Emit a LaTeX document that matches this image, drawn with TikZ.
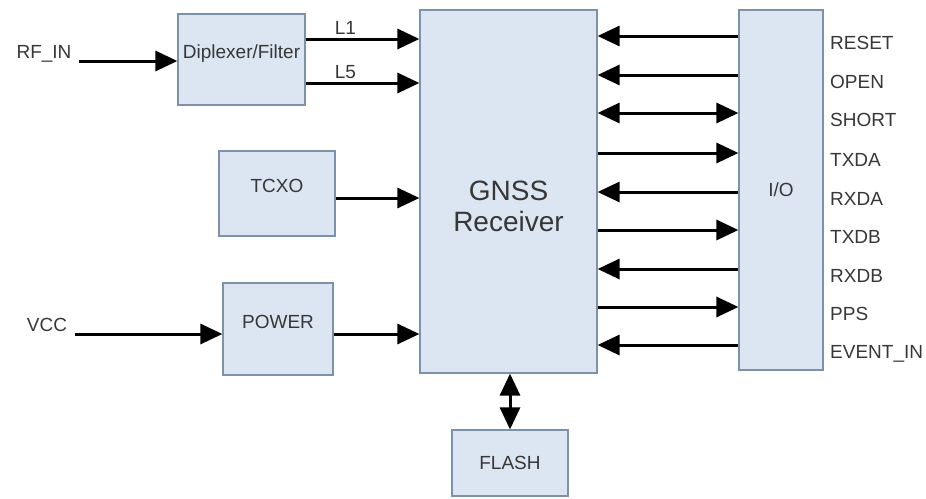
\documentclass[tikz,border=0pt]{standalone}
\usepackage{fontspec}
\setmainfont{Liberation Sans}
\usepackage{tikz}
\usetikzlibrary{arrows.meta,positioning}
\tikzset{>/.tip={Triangle[length=22pt,width=20pt]}}
\definecolor{boxfill}{RGB}{220,230,242}
\definecolor{boxline}{RGB}{125,145,170}
\definecolor{txtgray}{RGB}{55,55,55}
\newcommand\sigfont{\fontsize{19}{22}\selectfont}
\newcommand\bigfont{\fontsize{28}{31}\selectfont}

\begin{document}
\begin{tikzpicture}[x=1pt,y=-1pt,
        blk/.style={draw=boxline,fill=boxfill,line width=1.2pt,font=\sigfont,text=txtgray,inner sep=0pt},
        raised/.style={text height=13pt,text depth=15pt},
        lbl/.style={font=\sigfont,text=txtgray,inner sep=0pt,text height=13pt,text depth=0pt},
        sig/.style={lbl,anchor=north west},
        wire/.style={line width=3pt}]
        \useasboundingbox (0,0) rectangle (926,498);
        % blocks
        \node[blk,minimum width=177pt,minimum height=363pt,
          label={[font=\bigfont,text=txtgray,align=center,yshift=-15pt]center:GNSS\\Receiver}]
          (gnss) at (508.5,191.5) {};
        \node[blk,raised,minimum width=127pt,minimum height=91pt] (diplex) at (241.5,59.5) {Diplexer/Filter};
        \node[blk,raised,minimum width=116pt,minimum height=85pt] (tcxo) at (277,193.5) {TCXO};
        \node[blk,raised,minimum width=110pt,minimum height=92pt] (power) at (278,329) {POWER};
        \node[blk,minimum width=116pt,minimum height=66pt] (flash) at (510,463) {FLASH};
        \node[blk,minimum width=84pt,minimum height=360pt] (io) at (781,190) {I/O};
        % inputs
        \node[lbl] (rfin) at (44,52) {RF\_IN};
        \node[lbl] (vcc) at (47,325) {VCC};
        \coordinate (rfa) at ([xshift=7pt,yshift=-9pt]rfin.east);
        \coordinate (vcca) at ([xshift=8pt,yshift=-9pt]vcc.east);
        \coordinate (l1) at ([yshift=20.5pt]diplex.east);
        \coordinate (l5) at ([yshift=-23.5pt]diplex.east);
        \coordinate (tcxoa) at ([yshift=-4.5pt]tcxo.east);
        \coordinate (powera) at ([yshift=-5pt]power.east);
        \draw[wire,->] (rfa) -- (rfa -| diplex.west);
        \draw[wire,->] (vcca) -- (vcca -| power.west);
        \draw[wire,->] (l1) -- node[lbl,above=3pt,pos=.35]{L1} (l1 -| gnss.west);
        \draw[wire,->] (l5) -- node[lbl,above=3pt,pos=.35]{L5} (l5 -| gnss.west);
        \draw[wire,->] (tcxoa) -- (tcxoa -| gnss.west);
        \draw[wire,->] (powera) -- (powera -| gnss.west);
        \draw[wire,<->] (flash.north |- gnss.south) -- (flash.north);
        % io signals
        \node[sig] (reset) at (830,36) {RESET};
        \node[sig] (open) at (830,75) {OPEN};
        \node[sig] (short) at (830,113) {SHORT};
        \node[sig] (txda) at (830,153) {TXDA};
        \node[sig] (rxda) at (830,192) {RXDA};
        \node[sig] (txdb) at (830,230) {TXDB};
        \node[sig] (rxdb) at (830,269) {RXDB};
        \node[sig] (pps) at (830,307) {PPS};
        \node[sig] (evin) at (830,345) {EVENT\_IN};
        \draw[wire,<-] (gnss.east |- reset.north) -- (io.west |- reset.north);
        \draw[wire,<-] (gnss.east |- open.north) -- (io.west |- open.north);
        \draw[wire,<->] (gnss.east |- short.north) -- (io.west |- short.north);
        \draw[wire,->] (gnss.east |- txda.north) -- (io.west |- txda.north);
        \draw[wire,<-] (gnss.east |- rxda.north) -- (io.west |- rxda.north);
        \draw[wire,->] (gnss.east |- txdb.north) -- (io.west |- txdb.north);
        \draw[wire,<-] (gnss.east |- rxdb.north) -- (io.west |- rxdb.north);
        \draw[wire,->] (gnss.east |- pps.north) -- (io.west |- pps.north);
        \draw[wire,<-] (gnss.east |- evin.north) -- (io.west |- evin.north);
\end{tikzpicture}
\end{document}
